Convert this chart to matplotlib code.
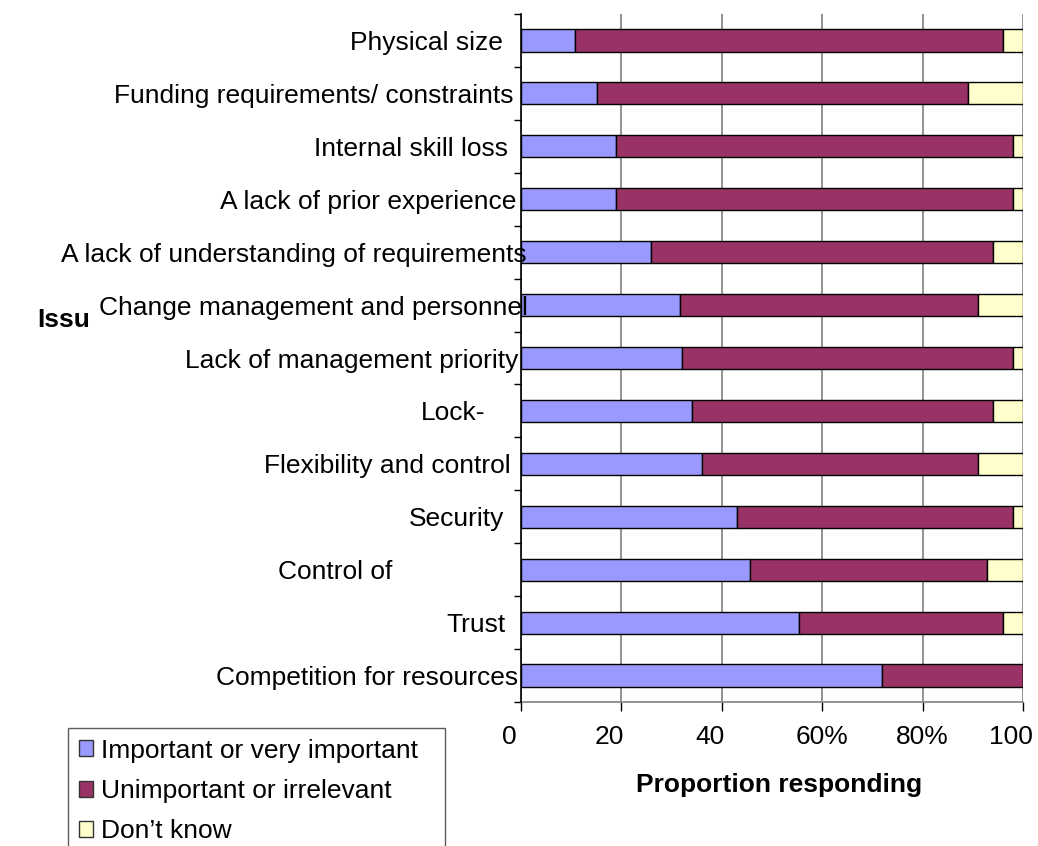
import matplotlib
matplotlib.use("Agg")
import matplotlib.pyplot as plt
from matplotlib.transforms import ScaledTranslation
from matplotlib.patches import Patch
import numpy as np

plt.rcParams['font.family'] = ['Liberation Sans', 'DejaVu Sans']

# ---- data (top to bottom) ----
categories = [
    "Physical size",
    "Funding requirements/ constraints",
    "Internal skill loss",
    "A lack of prior experience",
    "A lack of understanding of requirements",
    "Change management and personnel",
    "Lack of management priority",
    "Lock-",
    "Flexibility and control",
    "Security",
    "Control of",
    "Trust",
    "Competition for resources",
]
important = [10.7, 15.2, 18.9, 18.9, 25.9, 31.7, 32.0, 34.0, 36.0, 43.0, 45.7, 55.3, 72.0]
unimportant = [85.3, 73.8, 79.1, 79.1, 68.2, 59.3, 66.0, 60.1, 55.0, 55.0, 47.2, 40.7, 28.0]
dont_know = [4.0, 11.0, 2.0, 2.0, 5.9, 9.0, 2.0, 5.9, 9.0, 2.0, 7.1, 4.0, 0.0]
series_names = ["Important or very important", "Unimportant or irrelevant", "Don\u2019t know"]
xtick_values = [0, 20, 40, 60, 80, 100]
xtick_labels = ["0", "20", "40", "60%", "80%", "100"]

# ---- style / layout ----
colors = ["#9999FF", "#993366", "#FFFFCC"]
label_end_px = [503, 514, 508, 516, 527, 528, 518, 485, 511, 504, 392, 506, 518]
FS = 19
DPI = 100
W, H = 1038, 846

fig = plt.figure(figsize=(W / DPI, H / DPI), dpi=DPI)
ax_left, ax_right, ax_top, ax_bot = 521, 1023, 14, 702
ax = fig.add_axes([ax_left / W, 1 - ax_bot / H, (ax_right - ax_left) / W, (ax_bot - ax_top) / H])

y = np.arange(len(categories))
imp = np.array(important)
uni = np.array(unimportant)
dk = np.array(dont_know)
bh = 0.42
ax.barh(y, imp, height=bh, color=colors[0], edgecolor="black", linewidth=1.0, zorder=2)
ax.barh(y, uni, left=imp, height=bh, color=colors[1], edgecolor="black", linewidth=1.0, zorder=2)
ax.barh(y, dk, left=imp + uni, height=bh, color=colors[2], edgecolor="black", linewidth=1.0, zorder=2)

ax.set_xlim(0, 100)
ax.set_ylim(len(categories) - 0.5, -0.5)

# grid below bars, category labels above bars
ax.xaxis.grid(True, color="#808080", linewidth=1.2)
ax.yaxis.grid(False)
ax.set_axisbelow(True)
ax.xaxis.set_zorder(0.5)
ax.yaxis.set_zorder(5)

for s in ["top", "right"]:
    ax.spines[s].set_visible(False)
ax.spines["left"].set_color("black")
ax.spines["left"].set_linewidth(1.2)
ax.spines["left"].set_zorder(4)
ax.spines["bottom"].set_color("#808080")
ax.spines["bottom"].set_linewidth(1.2)

# y ticks
ax.set_yticks(y)
ax.set_yticklabels(categories, fontsize=FS)
ax.set_yticks(np.arange(-0.5, len(categories), 1.0), minor=True)
ax.tick_params(axis="y", which="major", length=0, pad=0)
ax.tick_params(axis="y", which="minor", length=5.2, width=1.0, color="black", direction="out")
for lab, end in zip(ax.get_yticklabels(), label_end_px):
    dx = (end - ax_left) / DPI
    lab.set_transform(lab.get_transform() + ScaledTranslation(dx, 0, fig.dpi_scale_trans))

# x ticks
ax.set_xticks(xtick_values)
ax.set_xticklabels(xtick_labels, fontsize=FS)
ax.tick_params(axis="x", which="major", length=6.5, width=1.0, color="black", pad=10)
pct_half = 0.889 * (FS * DPI / 72) / 2
for lab, txt in zip(ax.get_xticklabels(), xtick_labels):
    if not txt.endswith("%"):
        lab.set_transform(lab.get_transform() + ScaledTranslation(-pct_half / DPI, 0, fig.dpi_scale_trans))

ax.set_xlabel("Proportion responding", fontsize=FS, fontweight="bold")
ax.xaxis.set_label_coords((779 - ax_left) / (ax_right - ax_left), -(785 - ax_bot) / (ax_bot - ax_top))
ax.xaxis.label.set_va("center")

fig.text(37 / W, 1 - 320 / H, "Issu", fontsize=FS, fontweight="bold", ha="left", va="center")

handles = [Patch(facecolor=c, edgecolor="#333333", linewidth=1.0) for c in colors]
leg = fig.legend(handles, series_names, loc="upper left",
                 bbox_to_anchor=(68 / W, 0, (445 - 68) / W, 1 - 728 / H), mode="expand",
                 fontsize=FS, frameon=True, fancybox=False, borderpad=0.4,
                 handlelength=0.55, handleheight=0.55, handletextpad=0.3,
                 labelspacing=0.62, borderaxespad=0)
leg.get_frame().set_edgecolor("#333333")
leg.get_frame().set_linewidth(1.0)

fig.savefig("out.png", dpi=DPI)
